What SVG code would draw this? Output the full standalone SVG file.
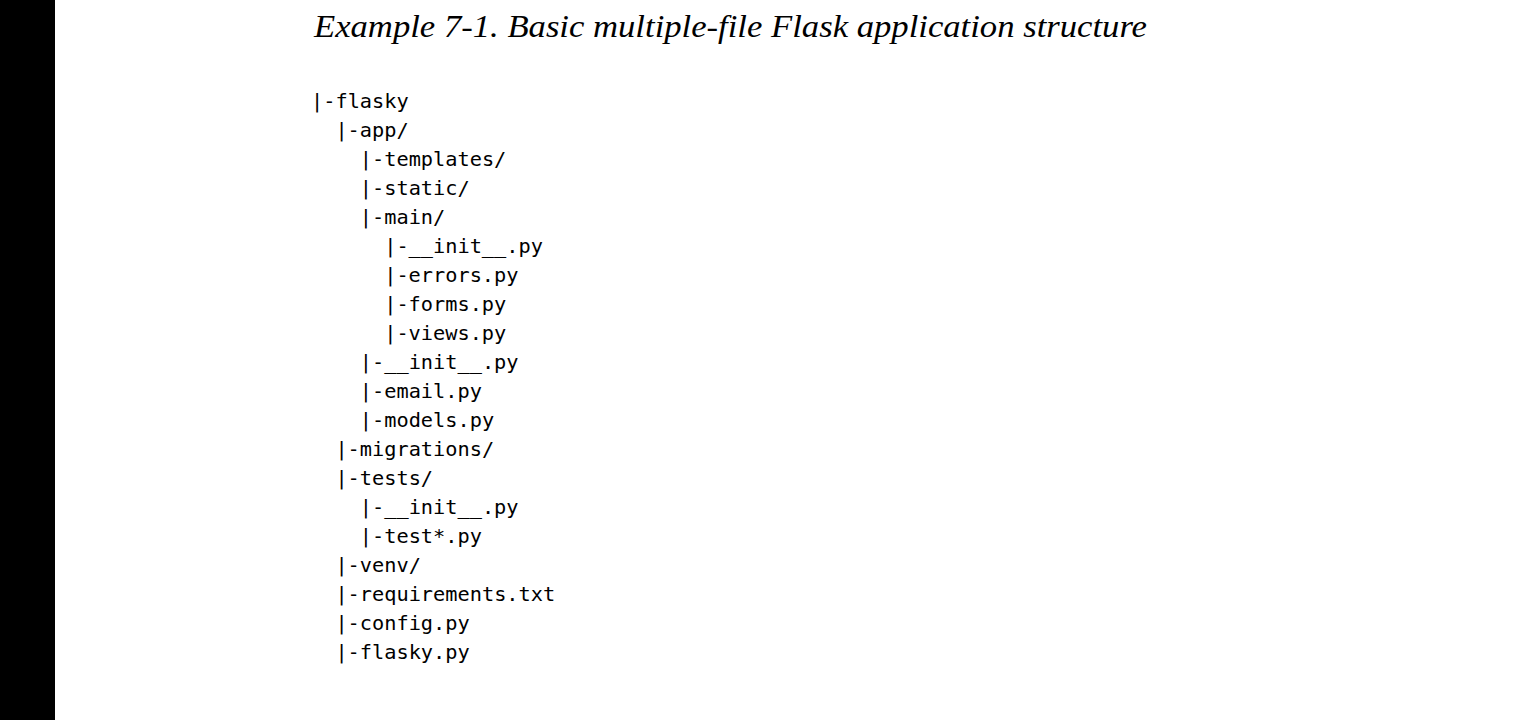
<svg xmlns="http://www.w3.org/2000/svg" width="1520" height="720" viewBox="0 0 1520 720">
<style>
.title{font-family:"Liberation Serif","DejaVu Serif",serif;font-style:italic;font-size:32.5px;fill:#000}
.t{font-family:"DejaVu Sans Mono","Liberation Mono",monospace;font-size:20.3px;fill:#000}
</style>
<rect x="0" y="0" width="1520" height="720" fill="#fff"/>
<rect id="sidebar" x="0" y="0" width="55" height="720" fill="#000"/>
<g id="caption"><text class="title" x="314" y="37" textLength="833" lengthAdjust="spacingAndGlyphs">Example 7-1. Basic multiple-file Flask application structure</text></g>
<g id="tree">
<g id="n-flasky"><text class="t" x="311" y="108">|-flasky</text></g>
<g id="n-app"><text class="t" x="335.4" y="137">|-app/</text></g>
<g id="n-templates"><text class="t" x="359.8" y="166">|-templates/</text></g>
<g id="n-static"><text class="t" x="359.8" y="195">|-static/</text></g>
<g id="n-main"><text class="t" x="359.8" y="224">|-main/</text></g>
<g id="n-main-init"><text class="t" x="384.2" y="253">|-__init__.py</text></g>
<g id="n-errors"><text class="t" x="384.2" y="282">|-errors.py</text></g>
<g id="n-forms"><text class="t" x="384.2" y="311">|-forms.py</text></g>
<g id="n-views"><text class="t" x="384.2" y="340">|-views.py</text></g>
<g id="n-app-init"><text class="t" x="359.8" y="369">|-__init__.py</text></g>
<g id="n-email"><text class="t" x="359.8" y="398">|-email.py</text></g>
<g id="n-models"><text class="t" x="359.8" y="427">|-models.py</text></g>
<g id="n-migrations"><text class="t" x="335.4" y="456">|-migrations/</text></g>
<g id="n-tests"><text class="t" x="335.4" y="485">|-tests/</text></g>
<g id="n-tests-init"><text class="t" x="359.8" y="514">|-__init__.py</text></g>
<g id="n-test-star"><text class="t" x="359.8" y="543">|-test*.py</text></g>
<g id="n-venv"><text class="t" x="335.4" y="572">|-venv/</text></g>
<g id="n-requirements"><text class="t" x="335.4" y="601">|-requirements.txt</text></g>
<g id="n-config"><text class="t" x="335.4" y="630">|-config.py</text></g>
<g id="n-flasky-py"><text class="t" x="335.4" y="659">|-flasky.py</text></g>
</g>
</svg>
